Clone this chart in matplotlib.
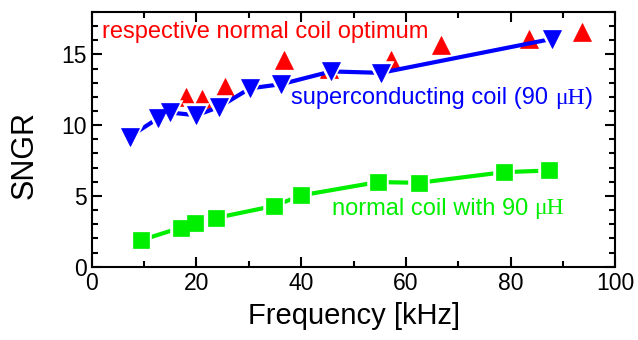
import matplotlib
matplotlib.use("Agg")
import matplotlib.pyplot as plt
from matplotlib.ticker import MultipleLocator

plt.rcParams['font.family'] = ['Liberation Sans', 'DejaVu Sans']

# respective normal coil optimum (red up triangles)
f_opt = [18.1, 21.0, 25.4, 36.8, 45.3, 57.1, 66.7, 83.5, 93.6]
s_opt = [12.0, 11.85, 12.7, 14.6, 13.95, 14.6, 15.66, 16.1, 16.6]

# superconducting coil (blue down triangles)
f_sc = [7.3, 12.7, 14.9, 20.0, 24.4, 30.2, 36.2, 45.7, 55.2, 87.9]
s_sc = [9.2, 10.5, 10.9, 10.7, 11.3, 12.6, 12.9, 13.8, 13.7, 16.1]

# normal coil with 90 uH (green squares)
f_nc = [9.5, 17.1, 19.7, 23.8, 34.9, 40.0, 54.6, 62.5, 78.7, 87.4]
s_nc = [1.88, 2.77, 3.1, 3.45, 4.3, 5.04, 5.98, 5.93, 6.68, 6.8]

RED = '#ff0000'
BLUE = '#0000ff'
GREEN = '#00ee00'
FS = 17

fig = plt.figure(figsize=(6.38, 3.4), dpi=100)
ax = fig.add_axes([0.1437, 0.2156, 0.8210, 0.7491])

# green
ax.plot(f_nc, s_nc, '-', color=GREEN, lw=3, zorder=2)
ax.plot(f_nc, s_nc, 's', ls='none', ms=11.5, mfc='white', mec='white', mew=4, zorder=3)
ax.plot(f_nc, s_nc, 's', ls='none', ms=11.5, mfc=GREEN, mec=GREEN, mew=0.5, zorder=4)

# red
ax.plot(f_opt, s_opt, '^', ls='none', ms=13, mfc=RED, mec=RED, mew=0.5, zorder=3)

# blue
ax.plot(f_sc, s_sc, '-', color=BLUE, lw=3, zorder=4)
ax.plot(f_sc, s_sc, 'v', ls='none', ms=13, mfc='white', mec='white', mew=4, zorder=5)
ax.plot(f_sc, s_sc, 'v', ls='none', ms=13, mfc=BLUE, mec=BLUE, mew=0.5, zorder=6)

ax.set_xlim(0, 100)
ax.set_ylim(0, 18)
ax.xaxis.set_major_locator(MultipleLocator(20))
ax.xaxis.set_minor_locator(MultipleLocator(10))
ax.yaxis.set_major_locator(MultipleLocator(5))
ax.yaxis.set_minor_locator(MultipleLocator(1))
ax.tick_params(which='both', direction='in', top=True, right=True, width=1.5, labelsize=16.5)
ax.tick_params(which='major', length=7)
ax.tick_params(which='minor', length=4)
for s in ax.spines.values():
    s.set_linewidth(1.5)

ax.set_xlabel('Frequency [kHz]', fontsize=21, labelpad=5)
ax.set_ylabel('SNGR', fontsize=22)
ax.yaxis.set_label_coords(-0.10, 0.44)

ax.text(2.0, 16.6, 'respective normal coil optimum', color=RED, fontsize=FS, va='center', ha='left', zorder=7)
t1 = ax.text(38.1, 11.9, 'superconducting coil (90 ', color=BLUE, fontsize=FS, va='center', ha='left', zorder=7)
t2 = ax.text(45.8, 4.1, 'normal coil with 90 ', color=GREEN, fontsize=FS, va='center', ha='left', zorder=7)

fig.canvas.draw()
def append(t, s, **kw):
    bb = t.get_window_extent()
    inv = ax.transData.inverted()
    x, _ = inv.transform((bb.x1, bb.y0))
    return ax.text(x, t.get_position()[1], s, va='center', ha='left', fontsize=FS, zorder=7, **kw)
t1b = append(t1, '\u03bcH', color=BLUE, family='Liberation Serif')
fig.canvas.draw()
append(t1b, ')', color=BLUE)
append(t2, '\u03bcH', color=GREEN, family='Liberation Serif')

fig.savefig('out.png', dpi=100)
